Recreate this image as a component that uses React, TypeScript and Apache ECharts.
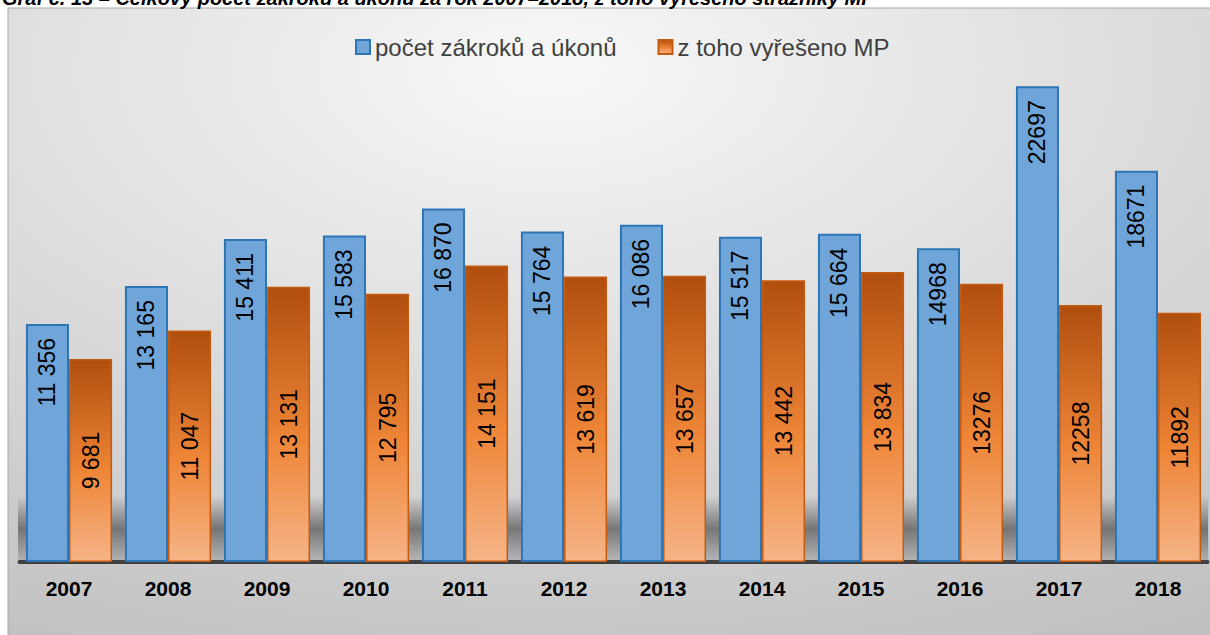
import React, { useEffect, useRef } from "react";
import * as echarts from "echarts";

const years = ["2007", "2008", "2009", "2010", "2011", "2012", "2013", "2014", "2015", "2016", "2017", "2018"];
const totalValues = [11356, 13165, 15411, 15583, 16870, 15764, 16086, 15517, 15664, 14968, 22697, 18671];
const resolvedValues = [9681, 11047, 13131, 12795, 14151, 13619, 13657, 13442, 13834, 13276, 12258, 11892];
const totalLabels = ["11 356", "13 165", "15 411", "15 583", "16 870", "15 764", "16 086", "15 517", "15 664", "14968", "22697", "18671"];
const resolvedLabels = ["9 681", "11 047", "13 131", "12 795", "14 151", "13 619", "13 657", "13 442", "13 834", "13276", "12258", "11892"];
const seriesNames = ["počet zákroků a úkonů", "z toho vyřešeno MP"];
const titleText = "Graf č. 13 – Celkový počet zákroků a úkonů za rok 2007–2018, z toho vyřešeno strážníky MP";

const FONT = '"Liberation Sans", Arial, sans-serif';

export default function App() {
  const ref = useRef<HTMLDivElement>(null);
  useEffect(() => {
    if (!ref.current) return;
    const chart = echarts.init(ref.current, null, { renderer: "svg" });
    chart.setOption({
      animation: false,
      textStyle: { fontFamily: FONT },
      graphic: [
        {
          type: "rect",
          z: 0,
          silent: true,
          shape: { x: 8, y: 8, width: 1203, height: 628 },
          style: {
            fill: {
              type: "radial",
              x: 0.45,
              y: 0.1,
              r: 1.1,
              colorStops: [
                { offset: 0, color: "#f8f8f8" },
                { offset: 1, color: "#bcbcbc" },
              ],
            },
            stroke: "#a8a8a8",
            lineWidth: 1,
          },
        },
        {
          type: "rect",
          z: 1,
          silent: true,
          shape: { x: 18, y: 496, width: 1190, height: 66 },
          style: {
            fill: {
              type: "linear",
              x: 0,
              y: 0,
              x2: 0,
              y2: 1,
              colorStops: [
                { offset: 0, color: "rgba(70,70,70,0)" },
                { offset: 0.5, color: "rgba(70,70,70,0.65)" },
                { offset: 1, color: "rgba(70,70,70,0.15)" },
              ],
            },
          },
        },
        {
          type: "text",
          z: 10,
          x: 2,
          y: -2,
          style: {
            text: titleText,
            font: 'italic bold 20px "Liberation Sans", Arial, sans-serif',
            fill: "#000",
            verticalAlign: "middle",
          },
        },
      ],
      legend: {
        left: 355,
        top: 35,
        padding: 0,
        icon: "rect",
        itemWidth: 14,
        itemHeight: 14,
        itemGap: 41,
        data: seriesNames,
        textStyle: {
          fontSize: 24,
          color: "#404040",
          fontFamily: FONT,
        },
      },
      grid: { left: 19.5, width: 1188, top: 38, height: 524 },
      xAxis: {
        type: "category",
        data: years,
        axisLine: { lineStyle: { color: "#404040", width: 4 } },
        axisTick: { show: false },
        axisLabel: { fontSize: 21, fontWeight: "bold", color: "#000", margin: 16, fontFamily: FONT },
      },
      yAxis: {
        type: "value",
        min: 0,
        max: 25000,
        show: false,
        splitLine: { show: false },
      },
      series: [
        {
          type: "bar",
          name: seriesNames[0],
          data: totalValues,
          barGap: "0%",
          barCategoryGap: "13%",
          z: 3,
          itemStyle: { color: "#6fa5d8", borderColor: "#2e75b6", borderWidth: 2 },
          label: {
            show: true,
            position: "insideTop",
            rotate: 90,
            align: "right",
            verticalAlign: "middle",
            distance: 14,
            fontSize: 23,
            color: "#000",
            fontFamily: FONT,
            formatter: (p: any) => totalLabels[p.dataIndex],
          },
        },
        {
          type: "bar",
          name: seriesNames[1],
          data: resolvedValues,
          z: 3,
          itemStyle: {
            color: {
              type: "linear",
              x: 0,
              y: 0,
              x2: 0,
              y2: 1,
              colorStops: [
                { offset: 0, color: "#b04e0e" },
                { offset: 0.55, color: "#ee8537" },
                { offset: 1, color: "#f6b487" },
              ],
            },
            borderColor: "#c55a11",
            borderWidth: 1.5,
          },
          label: {
            show: true,
            position: "inside",
            rotate: 90,
            align: "center",
            verticalAlign: "middle",
            fontSize: 23,
            color: "#000",
            fontFamily: FONT,
            formatter: (p: any) => resolvedLabels[p.dataIndex],
          },
        },
      ],
    });
    return () => chart.dispose();
  }, []);
  return (
    <div
      ref={ref}
      style={{ position: "absolute", left: 0, top: 0, width: 1210, height: 635 }}
    />
  );
}
